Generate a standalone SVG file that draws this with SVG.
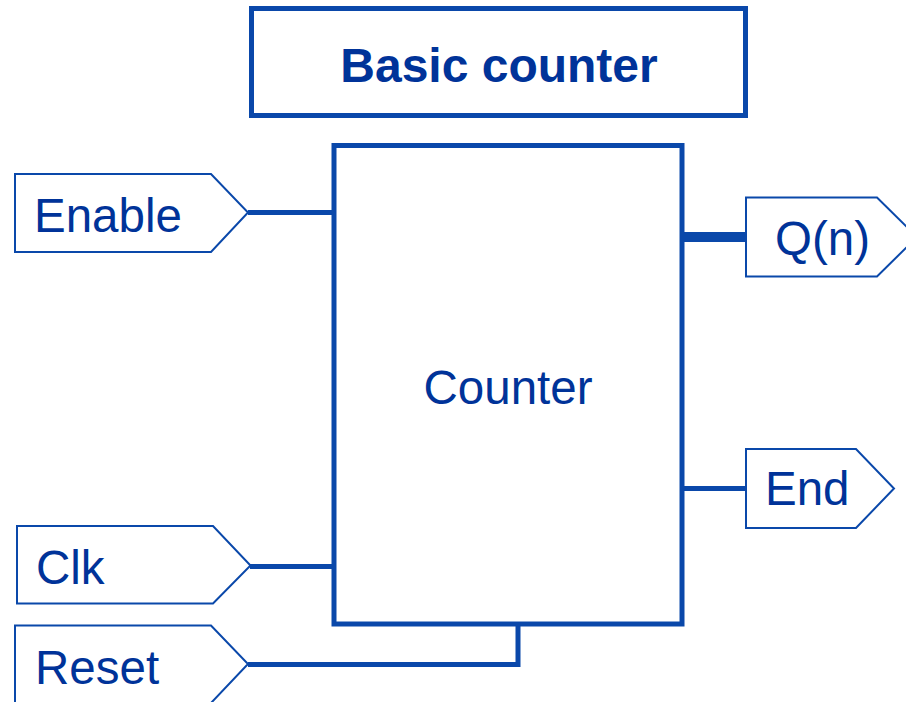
<svg xmlns="http://www.w3.org/2000/svg" width="906" height="702" viewBox="0 0 906 702">
  <style>
    .frame { fill: #ffffff; stroke: #0a48aa; stroke-width: 5; }
    .port { fill: #ffffff; stroke: #0a48aa; stroke-width: 2; stroke-linejoin: miter; }
    .wire { fill: none; stroke: #0a48aa; stroke-width: 5; stroke-linecap: butt; stroke-linejoin: miter; }
    .bus { stroke-width: 10; }
    .lbl { font-family: "Liberation Sans", Arial, sans-serif; font-size: 47.5px; fill: #003399; }
    .title { font-family: "Liberation Sans", Arial, sans-serif; font-size: 48px; font-weight: bold; fill: #003399; }
  </style>
  <rect width="906" height="702" fill="#ffffff"/>

  <!-- title -->
  <g id="title">
    <rect class="frame" x="251.5" y="8.5" width="494" height="107"/>
    <text class="title" x="499" y="82" text-anchor="middle">Basic counter</text>
  </g>

  <!-- wires -->
  <g id="connectors">
    <line class="wire" x1="248" y1="212.5" x2="334" y2="212.5"/>
    <line class="wire" x1="250" y1="566.5" x2="334" y2="566.5"/>
    <polyline class="wire" points="248,664.5 518,664.5 518,624"/>
    <line class="wire bus" x1="682" y1="237" x2="746" y2="237"/>
    <line class="wire" x1="682" y1="488.5" x2="746" y2="488.5"/>
  </g>

  <!-- counter block -->
  <g id="counter">
    <rect class="frame" x="334" y="145.5" width="348" height="478.5"/>
    <text class="lbl" x="508" y="403.5" text-anchor="middle">Counter</text>
  </g>

  <!-- input ports -->
  <g id="enable">
    <polygon class="port" points="15,174 211,174 248,212.5 211,252 15,252"/>
    <text class="lbl" x="34" y="231.5">Enable</text>
  </g>
  <g id="clk">
    <polygon class="port" points="17,526 213,526 250.5,565.5 213,603.5 17,603.5"/>
    <text class="lbl" x="36" y="584">Clk</text>
  </g>
  <g id="reset">
    <polygon class="port" points="15,625.5 211,625.5 248,664 211,703 15,703"/>
    <text class="lbl" x="35" y="683.5">Reset</text>
  </g>

  <!-- output ports -->
  <g id="qn">
    <polygon class="port" points="746,197.5 877,197.5 917,237 877,276.5 746,276.5"/>
    <text class="lbl" x="775" y="255">Q(n)</text>
  </g>
  <g id="end">
    <polygon class="port" points="746,449 856,449 894,488.5 856,528 746,528"/>
    <text class="lbl" x="765" y="505">End</text>
  </g>
</svg>
